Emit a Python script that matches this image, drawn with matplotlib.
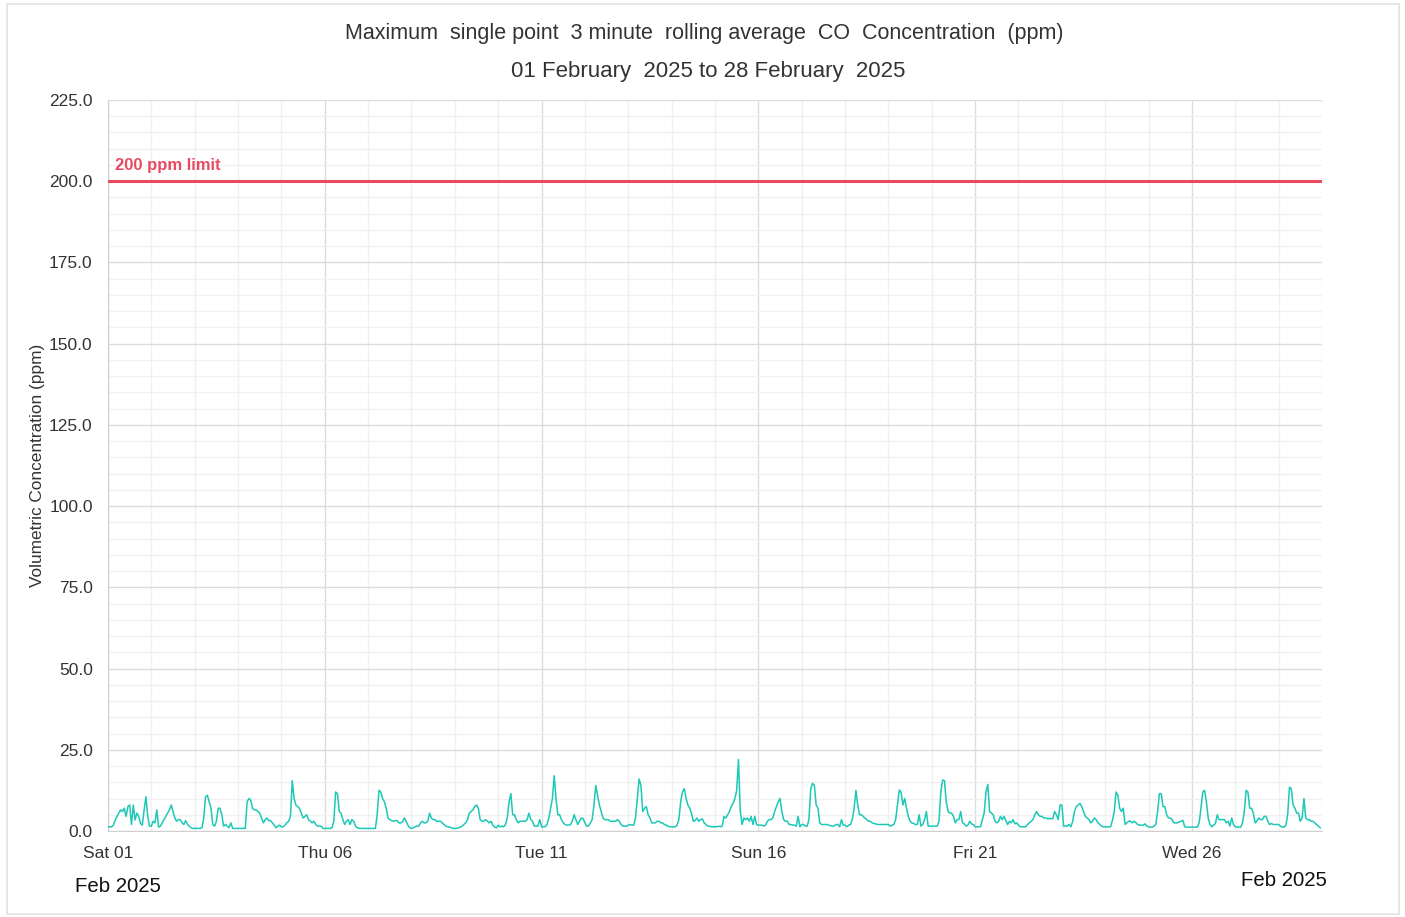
import numpy as np
import matplotlib
matplotlib.use("Agg")
import matplotlib.pyplot as plt
import matplotlib.dates as mdates
from matplotlib.patches import Rectangle

plt.rcParams['font.family'] = ['Liberation Sans', 'DejaVu Sans']

# hourly max 3-min rolling average CO (ppm), one row per day
co_week1 = [
    [1.3, 1.3, 1.3, 1.8, 3.4, 4.5, 5.5, 6.5, 6, 7, 4.5, 7.5, 8, 2, 8, 3.4, 5.5, 4.5, 2.3, 1.8, 6.5, 10.5, 4.5, 1.5],
    [1.5, 3, 2.5, 6.5, 1.2, 1.5, 2.5, 3.5, 4.5, 5.5, 6.5, 8, 6, 4, 3, 3.5, 3.5, 2.5, 2, 3.2, 2, 1.5, 1, 0.8],
    [0.8, 0.8, 0.8, 0.8, 1, 4, 10.5, 11, 9, 7, 2, 1.5, 3, 7, 7, 5, 1.5, 2, 1.5, 1, 2.5, 0.8, 0.8, 0.8],
    [0.8, 0.8, 0.8, 0.8, 0.8, 9, 10, 9.5, 7, 6.5, 6.5, 6, 5.5, 4, 2.5, 3.5, 4, 3.2, 3.2, 2.5, 1.8, 1, 1.5, 1.8],
    [1.3, 1.3, 1.8, 2.5, 3, 4.5, 15.5, 10, 8, 7.5, 7, 5.5, 4, 4.5, 5, 3.5, 3, 2.5, 3, 2, 1.5, 1.5, 1.5, 0.8],
    [0.8, 0.8, 0.8, 0.8, 1, 3, 12, 11.5, 6, 5.5, 3.5, 2, 3, 3.5, 2, 3.5, 3, 1.5, 1, 0.8, 0.8, 0.8, 0.8, 0.8],
    [0.8, 0.8, 0.8, 0.8, 0.8, 5, 12.5, 12, 10, 9, 7, 4, 3.5, 3.2, 3, 3.2, 3.2, 2.5, 2.5, 2.8, 4, 3, 1.8, 1],
]
co_week2 = [
    [0.8, 1, 1.3, 1.5, 1.5, 2.5, 3, 2.5, 2.5, 3, 5.5, 4, 3.5, 3.5, 3, 3, 3, 2.5, 2, 1.5, 1.3, 1.2, 1, 0.8],
    [0.8, 0.8, 1, 1.2, 1.5, 2, 2.5, 3.5, 5.5, 6, 6.5, 7.5, 8, 7, 3.5, 3, 3, 3.5, 3, 2.5, 3, 1.8, 1.2, 1],
    [1.8, 1.3, 1.5, 1.3, 2, 4, 9, 11.5, 5, 5, 3.5, 2.5, 3, 3, 3, 3, 3.5, 5.5, 3.5, 3, 1.5, 1.5, 1.5, 3.5],
    [1.3, 1.3, 1.3, 2, 4, 7, 10, 17, 10, 5, 5, 3.5, 2.5, 2, 1.8, 1.8, 2, 3, 5, 3.5, 2, 3, 4, 3.8],
    [2.5, 1.5, 1.5, 2.5, 3.5, 8, 14, 11, 8, 6, 4, 3.5, 3.5, 3.5, 3, 3, 3, 3, 3.5, 3, 2, 1.5, 1.5, 1.5],
    [1.8, 2, 1.8, 1.8, 4, 10, 16, 14, 6, 7, 7.5, 5, 4, 2.5, 2.5, 2.5, 3, 3, 2.5, 2.5, 2, 1.8, 1.5, 1.3],
    [1.3, 1.3, 1.3, 1.8, 3.5, 9, 12, 13, 10, 8, 7, 5.5, 3, 3.2, 4, 3, 3.5, 3.7, 2.5, 2, 1.5, 1.5, 1.3, 1.3],
]
co_week3 = [
    [1.3, 1.3, 1.5, 1.3, 1.5, 4.5, 4, 5, 6, 7.5, 8.5, 10, 12.5, 22, 6, 2, 4, 3.5, 4, 3, 4.5, 2, 4.5, 2],
    [1.8, 1.8, 1.8, 1.5, 1.8, 3, 3.5, 3.5, 4, 6, 7.5, 9, 10, 6, 3.5, 3, 3, 2, 2, 1.8, 1.8, 1.5, 4.5, 1.3],
    [2, 2, 1.5, 1.5, 3.5, 13, 14.7, 14, 8, 7, 2.5, 2, 2, 2, 2, 1.8, 1.6, 1.5, 1.6, 2, 2, 1.3, 3.5, 1.8],
    [1.8, 1.3, 1.8, 2, 3.5, 7, 12.5, 8, 5, 5, 4.5, 4, 3.5, 3, 3, 2.5, 2.3, 2.2, 2, 2, 2, 2, 2, 2],
    [2, 1.5, 1.8, 2, 3.5, 8, 12.6, 12, 8, 10, 7, 4.5, 3, 2.5, 2.3, 2, 2, 5, 1.5, 2, 3.5, 6, 1.5, 1.5],
    [1.5, 1.5, 1.5, 1.5, 3, 12, 15.7, 15.5, 9, 6, 5.5, 5.5, 4.5, 2.5, 3.5, 3.5, 6, 2.5, 2.2, 1.5, 1.8, 3, 2.2, 2],
    [1.3, 1.3, 1.3, 1.3, 3.5, 5.5, 12, 14.3, 6, 5.5, 5, 3, 2.5, 3, 4.5, 3.5, 4.5, 3.2, 2, 3, 2.5, 3.5, 2.2, 2.5],
]
co_week4 = [
    [1.8, 1.3, 1.3, 1.3, 1.3, 2, 2.5, 3, 3.5, 5, 6, 5, 4.5, 4.5, 4, 4, 3.8, 3.8, 3.8, 3.8, 6, 5, 3.5, 8],
    [8, 1.5, 1.5, 1.5, 2, 1.3, 3, 6, 7.5, 8, 8.5, 7.5, 6, 4.5, 4, 3.5, 2.5, 3, 4, 3.5, 2.5, 2, 1.5, 1.3],
    [1.3, 1.3, 1.3, 1.3, 3.3, 6, 12, 11, 7, 6, 7, 2, 2.5, 3, 3, 2.5, 3, 2.5, 2, 1.8, 1.8, 1.8, 2.2, 1.5],
    [1.3, 1.2, 1.2, 1.5, 2, 6, 11.5, 11.5, 7.5, 7.5, 5, 4, 4, 3.5, 2.5, 2.5, 2.5, 2.8, 3, 3.3, 1.3, 1.2, 1.2, 1.2],
    [1.2, 1.2, 1.2, 1.2, 2.5, 7, 12, 12.5, 9, 4, 2, 1.3, 1.8, 2.3, 5, 3.5, 3.5, 3.5, 3.5, 2.5, 3, 1.5, 4, 2],
    [1.3, 1.2, 1.2, 1.2, 2.5, 6, 12.5, 12, 7, 7, 5.5, 2.5, 3, 4, 3.5, 3.5, 4.5, 4.5, 3, 2, 2.3, 2, 2, 2],
    [2, 1.5, 1.2, 1.2, 1.8, 5, 13.5, 13, 8, 7, 5.5, 5.5, 3, 4, 10, 4, 3.5, 3.5, 3, 3, 2.5, 2, 1.5, 1],
]

limit_ppm = 200
limit_label = "200 ppm limit"
title = "Maximum  single point  3 minute  rolling average  CO  Concentration  (ppm)"
subtitle = "01 February  2025 to 28 February  2025"
y_label = "Volumetric Concentration (ppm)"
month_label = "Feb 2025"
labelled_days = ['2025-02-01', '2025-02-06', '2025-02-11', '2025-02-16', '2025-02-21', '2025-02-26']


def to_dt(s):
    return np.datetime64(s).astype('datetime64[ms]').astype(object)


values = np.concatenate([np.ravel(w) for w in (co_week1, co_week2, co_week3, co_week4)])
times = np.datetime64('2025-02-01T00:00') + np.arange(len(values)) * np.timedelta64(1, 'h')
times = times.astype('datetime64[ms]').astype(object)

fig = plt.figure(figsize=(14.05, 9.17), dpi=100)
fig.patches.append(Rectangle((0.005, 0.003), 0.991, 0.993, transform=fig.transFigure,
                             fill=False, edgecolor='#e3e3e3', linewidth=1.2))
ax = fig.add_axes([108 / 1405, 1 - 831 / 917, (1322 - 108) / 1405, (831 - 100) / 917])

ax.plot(times, values, color='#1cc8b6', linewidth=1.1, zorder=3)
ax.axhline(limit_ppm, color='#e84a5f', linewidth=2.2, zorder=4)
ax.text(0.006, limit_ppm + 2.5, limit_label, transform=ax.get_yaxis_transform(),
        color='#e84a5f', fontsize=12, fontweight='bold', va='bottom', ha='left')

ax.set_xlim(to_dt('2025-02-01T00:00'), to_dt('2025-03-01T00:00'))
ax.set_ylim(0, 225)

ax.xaxis.set_major_locator(plt.FixedLocator([mdates.date2num(to_dt(d)) for d in labelled_days]))
ax.xaxis.set_minor_locator(mdates.DayLocator())
ax.xaxis.set_major_formatter(mdates.DateFormatter('%a %d'))
ax.yaxis.set_major_locator(plt.MultipleLocator(25))
ax.yaxis.set_minor_locator(plt.MultipleLocator(5))
ax.yaxis.set_major_formatter(plt.FormatStrFormatter('%.1f'))

ax.grid(which='major', color='#dcdcdc', linewidth=1.0, zorder=0)
ax.grid(which='minor', color='#f0f0f0', linewidth=1.0, zorder=0)
ax.tick_params(which='both', length=0, labelsize=12.5, labelcolor='#333333')
ax.tick_params(axis='y', pad=11)
ax.tick_params(axis='x', pad=11)
for s in ['top', 'right']:
    ax.spines[s].set_visible(False)
for s in ['left', 'bottom']:
    ax.spines[s].set_color('#d0d0d0')

ax.set_ylabel(y_label, fontsize=12.4, color='#333333', labelpad=3)

fig.text(704 / 1405, 1 - 33 / 917, title, ha='center', va='center', fontsize=15.5, color='#333333')
fig.text(708 / 1405, 1 - 71 / 917, subtitle, ha='center', va='center', fontsize=16, color='#333333')
fig.text(118 / 1405, 1 - 886 / 917, month_label, ha='center', va='center', fontsize=14.7, color='#111111')
fig.text(1284 / 1405, 1 - 881 / 917, month_label, ha='center', va='center', fontsize=14.7, color='#111111')

fig.savefig('out.png', dpi=100, facecolor='white')
